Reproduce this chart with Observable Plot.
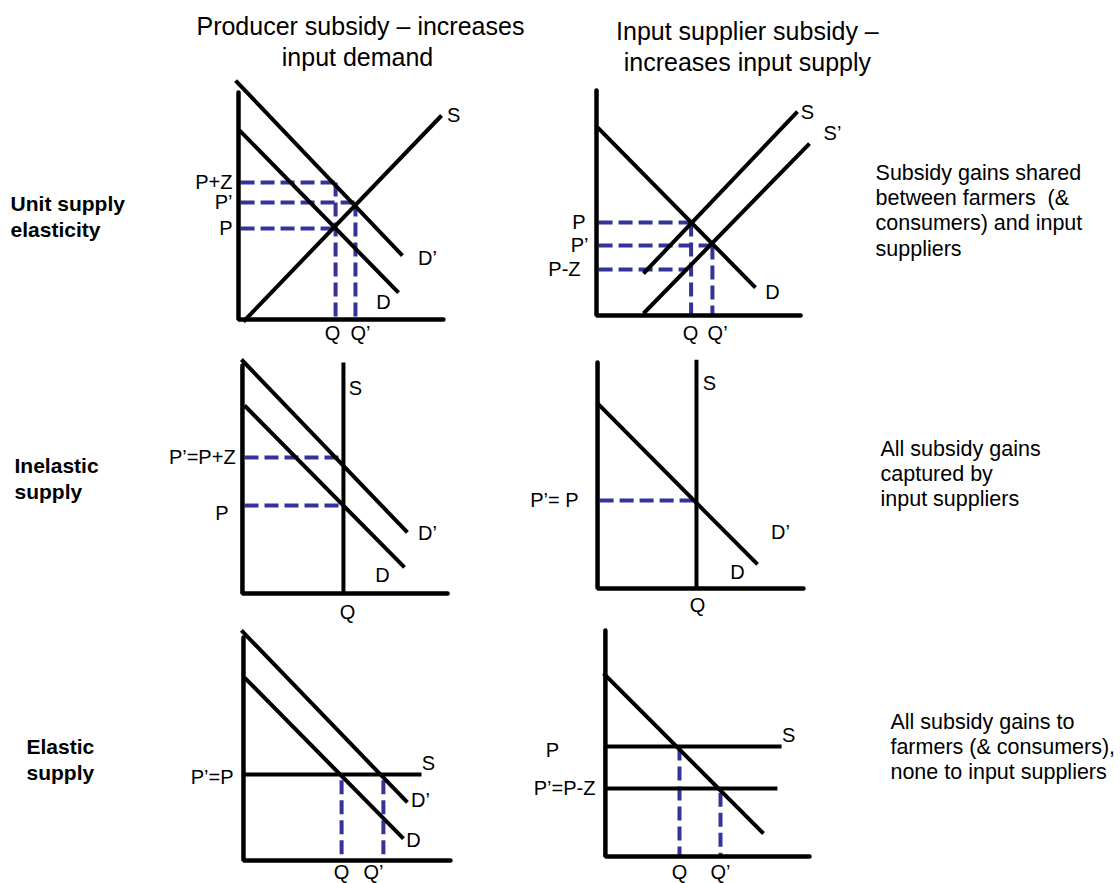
<!DOCTYPE html>
<html>
<head>
<meta charset="utf-8">
<script src="https://cdn.jsdelivr.net/npm/d3@7"></script>
<script src="https://cdn.jsdelivr.net/npm/@observablehq/plot@0.6"></script>
<style>
  html, body { margin: 0; padding: 0; background: #fff; }
  #chart svg { display: block; }
</style>
</head>
<body>
<div id="chart"></div>
<script>
// Facet layout: rows are supply elasticities, columns are subsidy types
const rows = ["unit", "inelastic", "elastic"];
const cols = ["producer", "input"];

// Axis corners (row, col, quantity, price)
const axisPoints = [
  ["unit","producer",0,9.87],["unit","producer",0,0],["unit","producer",9.9,0],
  ["unit","input",0,9.96],["unit","input",0,0.17],["unit","input",9.86,0.17],
  ["inelastic","producer",0.19,9.74],["inelastic","producer",0.19,-0.17],["inelastic","producer",10.1,-0.17],
  ["inelastic","input",0.05,9.87],["inelastic","input",0.05,0.04],["inelastic","input",10.0,0.04],
  ["elastic","producer",0.24,9.65],["elastic","producer",0.24,-0.04],["elastic","producer",10.24,-0.04],
  ["elastic","input",0.43,9.96],["elastic","input",0.43,0.13],["elastic","input",10.29,0.13]
];

// Supply and demand curves (row, col, name, q1, p1, q2, p2)
const curves = [
  ["unit","producer","D’",-0.14,10.39,7.92,2.78],
  ["unit","producer","D",0.05,8.22,7.73,1.17],
  ["unit","producer","S",0.24,-0.09,9.81,8.87],
  ["unit","input","D",0.05,8.35,7.68,1.39],
  ["unit","input","S",2.27,2.0,9.71,9.04],
  ["unit","input","S’",2.27,0.26,10.29,7.65],
  ["inelastic","producer","D’",0.14,10.0,8.16,2.48],
  ["inelastic","producer","D",0.29,8.0,8.02,0.96],
  ["inelastic","producer","S",5.07,9.87,5.07,-0.17],
  ["inelastic","input","D",0.05,8.09,7.78,1.09],
  ["inelastic","input","S",4.83,9.99,4.83,0.04],
  ["elastic","producer","D’",0.14,9.96,8.16,2.48],
  ["elastic","producer","D",0.29,7.91,7.97,0.91],
  ["elastic","producer","S",0.24,3.70,8.84,3.70],
  ["elastic","input","D",0.34,8.09,8.07,1.13],
  ["elastic","input","S",0.43,4.91,8.94,4.91],
  ["elastic","input","S’",0.43,3.09,8.74,3.09]
];

// Dashed price / quantity guides (row, col, q1, p1, q2, p2)
const guides = [
  ["unit","producer",0.1,5.96,4.69,5.96],["unit","producer",4.69,5.96,4.69,0],
  ["unit","producer",0.1,5.09,5.65,5.09],["unit","producer",5.65,5.09,5.65,0],
  ["unit","producer",0.1,3.96,4.69,3.96],
  ["unit","input",0.1,4.22,4.75,4.22],["unit","input",4.57,4.22,4.57,0.17],
  ["unit","input",0.1,3.22,5.9,3.22],["unit","input",5.6,3.22,5.6,0.17],
  ["unit","input",0.1,2.17,4.4,2.17],
  ["inelastic","producer",0.29,5.74,5.07,5.74],
  ["inelastic","producer",0.29,3.65,5.07,3.65],
  ["inelastic","input",0.15,3.87,4.83,3.87],
  ["elastic","producer",4.98,3.45,4.98,0],["elastic","producer",7.0,3.45,7.0,0],
  ["elastic","input",4.01,4.91,4.01,0.13],["elastic","input",5.99,2.9,5.99,0.13]
];

// Curve and quantity labels, centred (row, col, text, q, p)
const curveLabels = [
  ["unit","producer","S",10.39,8.87],["unit","producer","D’",9.13,2.65],["unit","producer","D",7.0,0.74],
  ["unit","producer","Q",4.54,-0.61],["unit","producer","Q’",5.89,-0.61],
  ["unit","input","S",10.19,9.0],["unit","input","S’",11.4,8.09],["unit","input","D",8.5,1.17],
  ["unit","input","Q",4.54,-0.61],["unit","input","Q’",5.85,-0.61],
  ["inelastic","producer","S",5.65,8.74],["inelastic","producer","D’",9.13,2.43],["inelastic","producer","D",6.96,0.61],
  ["inelastic","producer","Q",5.27,-1.0],
  ["inelastic","input","S",5.46,8.96],["inelastic","input","D’",8.89,2.48],["inelastic","input","D",6.81,0.74],
  ["inelastic","input","Q",4.88,-0.7],
  ["elastic","producer","S",9.18,4.17],["elastic","producer","D’",8.79,2.57],["elastic","producer","D",8.45,0.83],
  ["elastic","producer","Q",4.98,-0.58],["elastic","producer","Q’",6.52,-0.58],
  ["elastic","input","S",9.28,5.39],["elastic","input","P",-2.13,4.74],
  ["elastic","input","Q",4.01,-0.57],["elastic","input","Q’",5.99,-0.57]
];

// Price labels, right-aligned against the price axis (row, col, text, q, p)
const priceLabels = [
  ["unit","producer","P+Z",-0.29,5.96],["unit","producer","P’",-0.29,5.09],["unit","producer","P",-0.29,3.96],
  ["unit","input","P",-0.53,4.22],["unit","input","P’",-0.39,3.22],["unit","input","P-Z",-0.77,2.17],
  ["inelastic","producer","P’=P+Z",-0.14,5.74],["inelastic","producer","P",-0.48,3.3],
  ["inelastic","input","P’= P",-0.87,3.87],
  ["elastic","producer","P’=P",-0.24,3.57],
  ["elastic","input","P’=P-Z",-0.05,3.09]
];

// Column titles (col, text, q, p) shown above the first row
const titleLines = [
  ["producer","Producer subsidy – increases",5.89,12.7],
  ["producer","input demand",5.75,11.35],
  ["input","Input supplier subsidy –",7.29,12.48],
  ["input","increases input supply",7.29,11.17]
];

// Row labels (row, text, q, p) left of the first column
const rowLabelLines = [
  ["unit","Unit supply",-11.01,5.0],["unit","elasticity",-11.01,3.87],
  ["inelastic","Inelastic",-10.82,5.35],["inelastic","supply",-10.82,4.22],
  ["elastic","Elastic",-10.24,4.87],["elastic","supply",-10.24,3.74]
];

// Notes (row, text, q, p) right of the second column
const noteLines = [
  ["unit","Subsidy gains shared",13.48,6.35],
  ["unit","between farmers  (&",13.48,5.26],
  ["unit","consumers) and input",13.48,4.17],
  ["unit","suppliers",13.48,3.04],
  ["inelastic","All subsidy gains",13.72,6.09],
  ["inelastic","captured by",13.72,5.0],
  ["inelastic","input suppliers",13.72,3.91],
  ["elastic","All subsidy gains to",14.2,5.96],
  ["elastic","farmers (& consumers),",14.2,4.87],
  ["elastic","none to input suppliers",14.2,3.78]
];

const axesData = axisPoints.map(([row, col, q, p]) => ({row, col, q, p, id: row + "-" + col}));
const curveData = curves.map(([row, col, name, q1, p1, q2, p2]) => ({row, col, name, q1, p1, q2, p2}));
const guideData = guides.map(([row, col, q1, p1, q2, p2]) => ({row, col, q1, p1, q2, p2}));
const curveLabelData = curveLabels.map(([row, col, text, q, p]) => ({row, col, text, q, p}));
const priceLabelData = priceLabels.map(([row, col, text, q, p]) => ({row, col, text, q, p}));
const titleData = titleLines.map(([col, text, q, p]) => ({row: "unit", col, text, q, p}));
const rowLabelData = rowLabelLines.map(([row, text, q, p]) => ({row, col: "producer", text, q, p}));
const noteData = noteLines.map(([row, text, q, p]) => ({row, col: "input", text, q, p}));

const blue = "#333399";
const font = "'Liberation Sans', Arial, Helvetica, sans-serif";

const chart = Plot.plot({
  width: 1120,
  height: 883,
  marginLeft: 238,
  marginRight: 317,
  marginTop: 89,
  marginBottom: 24,
  fx: {domain: cols, axis: null, paddingInner: 151 / 358, paddingOuter: 0},
  fy: {domain: rows, axis: null, paddingInner: 40 / 270, paddingOuter: 0},
  x: {domain: [0, 10], axis: null},
  y: {domain: [0, 10], axis: null},
  facet: {marginTop: 0, marginRight: 0, marginBottom: 0, marginLeft: 0},
  style: {fontFamily: font, background: "white", color: "black", overflow: "visible"},
  marks: [
    Plot.link(guideData, {
      x1: "q1", y1: "p1", x2: "q2", y2: "p2", fx: "col", fy: "row",
      stroke: blue, strokeWidth: 4, strokeDasharray: "14,6"
    }),
    Plot.link(curveData, {
      x1: "q1", y1: "p1", x2: "q2", y2: "p2", fx: "col", fy: "row",
      stroke: "black", strokeWidth: 4
    }),
    Plot.line(axesData, {
      x: "q", y: "p", z: "id", fx: "col", fy: "row",
      stroke: "black", strokeWidth: 4.5, strokeLinejoin: "miter"
    }),
    Plot.text(curveLabelData, {
      x: "q", y: "p", text: "text", fx: "col", fy: "row",
      fontSize: 20, textAnchor: "middle", fill: "black"
    }),
    Plot.text(priceLabelData, {
      x: "q", y: "p", text: "text", fx: "col", fy: "row",
      fontSize: 20, textAnchor: "end", fill: "black"
    }),
    Plot.text(titleData, {
      x: "q", y: "p", text: "text", fx: "col", fy: "row",
      fontSize: 25, textAnchor: "middle", fill: "black"
    }),
    Plot.text(rowLabelData, {
      x: "q", y: "p", text: "text", fx: "col", fy: "row",
      fontSize: 21, fontWeight: "bold", textAnchor: "start", fill: "black"
    }),
    Plot.text(noteData, {
      x: "q", y: "p", text: "text", fx: "col", fy: "row",
      fontSize: 21.5, textAnchor: "start", fill: "black"
    })
  ]
});

document.getElementById("chart").appendChild(chart);
</script>
</body>
</html>
